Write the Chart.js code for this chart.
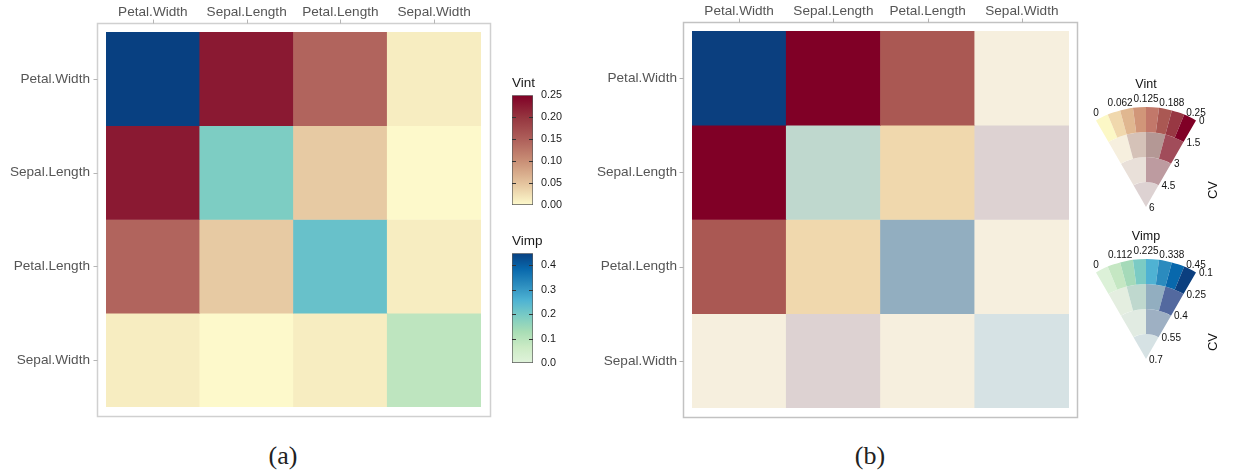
<!DOCTYPE html>
<html>
<head>
<meta charset="utf-8">
<title>Iris variable importance and interaction</title>
<script src="https://cdn.jsdelivr.net/npm/chart.js@4.4.1/dist/chart.umd.min.js"></script>
<style>
  html, body { margin: 0; padding: 0; background: #fff; }
  #stage { position: relative; width: 1237px; height: 476px; overflow: hidden; }
  #stage canvas { position: absolute; }
  .caption {
    position: absolute; top: 443px; transform: translateX(-50%);
    font-family: 'Liberation Serif', 'DejaVu Serif', serif; font-size: 26px; line-height: 1; color: #222;
  }
</style>
</head>
<body>
<div id="stage">
  <canvas id="heatA" width="500" height="420" style="left:0;top:0"></canvas>
  <canvas id="barVint" width="68" height="145" style="left:505px;top:68px"></canvas>
  <canvas id="barVimp" width="68" height="145" style="left:505px;top:226px"></canvas>
  <canvas id="heatB" width="500" height="420" style="left:585px;top:0"></canvas>
  <canvas id="wedgeVint" width="167" height="170" style="left:1070px;top:55px"></canvas>
  <canvas id="wedgeVimp" width="167" height="170" style="left:1070px;top:207px"></canvas>
  <div class="caption" style="left:283px">(a)</div>
  <div class="caption" style="left:870px">(b)</div>
</div>
<script>
const variables = ['Petal.Width', 'Sepal.Length', 'Petal.Length', 'Sepal.Width'];

// (a) point estimates: importance on the diagonal, pairwise interaction off it
const vimp = [0.45, 0.19, 0.22, 0.09];
const vintPW = [null, 0.226, 0.145, 0.012];
const vintSL = [0.226, null, 0.044, 0.001];
const vintPL = [0.145, 0.044, null, 0.012];
const vintSW = [0.012, 0.001, 0.012, null];

// (b) resampled means and coefficients of variation
const vimpMean = [0.45, 0.19, 0.23, 0.09];
const vimpCV = [0.12, 0.31, 0.33, 0.62];
const vintMeanPW = [null, 0.226, 0.16, 0.012];
const vintMeanSL = [0.226, null, 0.044, 0.001];
const vintMeanPL = [0.16, 0.044, null, 0.012];
const vintMeanSW = [0.012, 0.001, 0.012, null];
const vintCvPW = [null, 0.6, 1.1, 2.3];
const vintCvSL = [0.6, null, 1.2, 5.0];
const vintCvPL = [1.1, 1.2, null, 2.5];
const vintCvSW = [2.3, 5.0, 2.5, null];

// legend scales
const vintMax = 0.25;
const vimpMax = 0.45;
const vintValueTicks = ['0', '0.062', '0.125', '0.188', '0.25'];
const vimpValueTicks = ['0', '0.112', '0.225', '0.338', '0.45'];
const vintCvTicks = ['0', '1.5', '3', '4.5', '6'];
const vimpCvTicks = ['0.1', '0.25', '0.4', '0.55', '0.7'];
const vintCvBreaks = [1.5, 3, 4.5];
const vimpCvBreaks = [0.25, 0.4, 0.55];

const vint = [vintPW, vintSL, vintPL, vintSW];
const vintMean = [vintMeanPW, vintMeanSL, vintMeanPL, vintMeanSW];
const vintCV = [vintCvPW, vintCvSL, vintCvPL, vintCvSW];

// palettes
const vintRamp = ['#fdfacc', '#e4c39d', '#c98f76', '#ae5f5a', '#95353f', '#800026'];
const vimpRamp = ['#e0f3db', '#ccebc5', '#a8ddb5', '#7bccc4', '#4eb3d3', '#2b8cbe', '#0868ac', '#084081'];
const vintRings = [
  ['#fcf8c6', '#f0d8ad', '#e0b790', '#d19679', '#c2786a', '#aa5853', '#983843', '#800026'],
  ['#f6efde', '#d5c2b8', '#b49895', '#a14c5a'],
  ['#e9e0d9', '#bd9ba0'],
  ['#ddd2d2']
];
const vimpRings = [
  ['#dcf1d8', '#c5e7c3', '#a5dab9', '#7bcbc4', '#4fb2d3', '#2b8bbe', '#0868ac', '#0b3f7f'],
  ['#e4eee0', '#bfd8ce', '#92aec0', '#53699f'],
  ['#e1ebe2', '#9eb0c3'],
  ['#d6e2e4']
];

const SANS = "'Liberation Sans', Arial, Helvetica, sans-serif";
Chart.defaults.font.family = SANS;

function hexToRgb(h) {
  const n = parseInt(h.slice(1), 16);
  return [(n >> 16) & 255, (n >> 8) & 255, n & 255];
}

function rampColor(stops, t) {
  const x = Math.max(0, Math.min(1, t)) * (stops.length - 1);
  const i = Math.min(stops.length - 2, Math.floor(x));
  const f = x - i;
  const a = hexToRgb(stops[i]), b = hexToRgb(stops[i + 1]);
  const c = a.map((v, k) => Math.round(v + (b[k] - v) * f));
  return `rgb(${c[0]},${c[1]},${c[2]})`;
}

// value-suppressing palette: fewer value bins as the CV grows
function vsupColor(value, cv, maxValue, breaks, rings) {
  let level = breaks.findIndex(b => cv < b);
  if (level < 0) level = rings.length - 1;
  const pal = rings[level];
  const bin = Math.min(pal.length - 1, Math.floor(value / maxValue * pal.length));
  return pal[Math.max(0, bin)];
}

const colorA = (r, c) => r === c
  ? rampColor(vimpRamp, vimp[r] / vimpMax)
  : rampColor(vintRamp, vint[r][c] / vintMax);

const colorB = (r, c) => r === c
  ? vsupColor(vimpMean[r], vimpCV[r], vimpMax, vimpCvBreaks, vimpRings)
  : vsupColor(vintMean[r][c], vintCV[r][c], vintMax, vintCvBreaks, vintRings);

// labels may hang over the plot edge, don't let them shrink it
const noEdgePadding = s => {
  s.paddingTop = 0; s.paddingBottom = 0; s.paddingLeft = 0; s.paddingRight = 0;
};

// grey frame around the tiles plus the little outside tick marks
const panelFrame = {
  id: 'panelFrame',
  afterDraw(chart, args, opts) {
    const {ctx, chartArea: a, scales: {x, y}} = chart;
    const g = opts.gap;
    const L = Math.round(a.left - g.left) + 0.5, T = Math.round(a.top - g.top) + 0.5;
    const R = Math.round(a.right + g.right) + 0.5, B = Math.round(a.bottom + g.bottom) + 0.5;
    ctx.save();
    ctx.strokeStyle = opts.color;
    ctx.lineWidth = opts.lineWidth;
    ctx.strokeRect(L, T, R - L, B - T);
    ctx.beginPath();
    x.ticks.forEach((t, i) => {
      const px = Math.round(x.getPixelForTick(i)) + 0.5;
      ctx.moveTo(px, T); ctx.lineTo(px, T - opts.tick);
    });
    y.ticks.forEach((t, i) => {
      const py = Math.round(y.getPixelForTick(i)) + 0.5;
      ctx.moveTo(L, py); ctx.lineTo(L - opts.tick, py);
    });
    ctx.strokeStyle = opts.tickColor;
    ctx.lineWidth = 1;
    ctx.stroke();
    ctx.restore();
  }
};

function heatmap(id, colorAt, area, frame) {
  const datasets = variables.map((rowName, r) => ({
    label: rowName,
    data: variables.map(() => 1),
    backgroundColor: variables.map((_, c) => colorAt(r, c)),
    borderWidth: 0,
    barPercentage: 1,
    categoryPercentage: 1
  }));
  return new Chart(document.getElementById(id), {
    type: 'bar',
    data: { labels: variables, datasets },
    options: {
      responsive: false,
      animation: false,
      events: [],
      layout: { padding: { left: 0, top: 0, right: area.right, bottom: area.bottom } },
      plugins: {
        legend: { display: false },
        tooltip: { enabled: false },
        panelFrame: frame
      },
      scales: {
        x: {
          position: 'top',
          stacked: true,
          grid: { display: false, drawTicks: false },
          border: { display: false },
          ticks: { color: '#555', padding: 12, font: { size: 13.6 } },
          afterFit: s => { noEdgePadding(s); s.height = area.top; }
        },
        y: {
          stacked: true,
          reverse: true,
          min: 0,
          max: variables.length,
          grid: { display: false, drawTicks: false },
          border: { display: false },
          afterBuildTicks: s => { s.ticks = variables.map((_, i) => ({ value: i + 0.5 })); },
          ticks: { color: '#555', padding: area.labelGap, font: { size: 13.6 }, callback: v => variables[Math.floor(v)] },
          afterFit: s => { noEdgePadding(s); s.width = area.left; }
        }
      }
    },
    plugins: [panelFrame]
  });
}

heatmap('heatA', colorA,
  { left: 106, top: 32, right: 19, bottom: 13, labelGap: 16 },
  { gap: { left: 9, top: 9, right: 9, bottom: 9 }, color: '#d0d0d0', lineWidth: 1.5, tick: 4, tickColor: '#b5b5b5' });

heatmap('heatB', colorB,
  { left: 107, top: 31, right: 16, bottom: 12, labelGap: 15 },
  { gap: { left: 9, top: 9, right: 8, bottom: 9 }, color: '#c2c2c2', lineWidth: 1.5, tick: 4, tickColor: '#b0b0b0' });

// short dark marks on both edges of a colour bar at every break
const barTicks = {
  id: 'barTicks',
  afterDatasetsDraw(chart) {
    const {ctx, chartArea: a, scales: {y}} = chart;
    ctx.save();
    ctx.strokeStyle = '#333';
    ctx.lineWidth = 1;
    ctx.beginPath();
    y.ticks.forEach(t => {
      if (t.value <= y.min || t.value >= y.max) return;
      const py = Math.round(y.getPixelForValue(t.value)) + 0.5;
      ctx.moveTo(a.left, py); ctx.lineTo(a.left + 4, py);
      ctx.moveTo(a.right - 4, py); ctx.lineTo(a.right, py);
    });
    ctx.stroke();
    ctx.restore();
  }
};

function colorbar(id, title, maxValue, step, digits, stops) {
  return new Chart(document.getElementById(id), {
    type: 'bar',
    data: {
      labels: [title],
      datasets: [{
        data: [maxValue],
        backgroundColor: ctx => {
          const area = ctx.chart.chartArea;
          if (!area) return stops[0];
          const g = ctx.chart.ctx.createLinearGradient(0, area.bottom, 0, area.top);
          stops.forEach((c, i) => g.addColorStop(i / (stops.length - 1), c));
          return g;
        },
        borderColor: '#5a5a5a',
        borderWidth: 1,
        borderSkipped: false,
        barPercentage: 1,
        categoryPercentage: 1
      }]
    },
    options: {
      responsive: false,
      animation: false,
      events: [],
      layout: { padding: { left: 7, top: 0, right: 0, bottom: 8 } },
      plugins: {
        legend: { display: false },
        tooltip: { enabled: false },
        title: {
          display: true, text: title, align: 'start', color: '#1a1a1a',
          font: { size: 13.5, weight: 'normal' }, padding: { top: 7, bottom: 4 }
        }
      },
      scales: {
        x: { display: false },
        y: {
          position: 'right',
          min: 0,
          max: maxValue,
          grid: { display: false, drawTicks: false },
          border: { display: false },
          ticks: {
            stepSize: step, includeBounds: false, padding: 8, color: '#1a1a1a',
            font: { size: 10.8 }, callback: v => v.toFixed(digits)
          },
          afterFit: s => { noEdgePadding(s); s.width = 40; }
        }
      }
    },
    plugins: [barTicks]
  });
}

colorbar('barVint', 'Vint', vintMax, 0.05, 2, vintRamp);
colorbar('barVimp', 'Vimp', vimpMax, 0.1, 1, vimpRamp);

// title, value ticks along the arc and CV ticks down the right edge
const wedgeAxes = {
  id: 'wedgeAxes',
  afterDraw(chart, args, opts) {
    const {ctx} = chart;
    const outer = chart.getDatasetMeta(0).data;
    const mid = chart.getDatasetMeta(1).data;
    const cx = outer[0].x, cy = outer[0].y, R = outer[0].outerRadius;
    const angles = mid.map(a => a.startAngle).concat(mid[mid.length - 1].endAngle);
    const right = outer[outer.length - 1].endAngle;
    const radii = chart.data.datasets.map((_, i) => chart.getDatasetMeta(i).data[0].outerRadius).concat(0);

    ctx.save();
    ctx.fillStyle = '#111';
    ctx.textBaseline = 'middle';
    ctx.font = `10px ${SANS}`;
    ctx.textAlign = 'center';
    angles.forEach((ang, k) => {
      ctx.fillText(opts.valueTicks[k], cx + R * Math.cos(ang), cy + R * Math.sin(ang) - 7.5);
    });
    ctx.textAlign = 'left';
    radii.forEach((r, k) => {
      ctx.fillText(opts.cvTicks[k], cx + r * Math.cos(right) + 3, cy + r * Math.sin(right) + 1);
    });
    ctx.textAlign = 'center';
    ctx.font = `12.5px ${SANS}`;
    ctx.fillText(opts.title, cx, cy - R - 22);
    ctx.translate(cx + 67, cy - 17);
    ctx.rotate(-Math.PI / 2);
    ctx.font = `13px ${SANS}`;
    ctx.fillText('CV', 0, 0);
    ctx.restore();
  }
};

function wedge(id, title, rings, valueTicks, cvTicks) {
  return new Chart(document.getElementById(id), {
    type: 'doughnut',
    data: {
      datasets: rings.map(pal => ({ data: pal.map(() => 1), backgroundColor: pal, borderWidth: 0 }))
    },
    options: {
      responsive: false,
      animation: false,
      events: [],
      rotation: -30,
      circumference: 60,
      cutout: 0,
      radius: 100,
      layout: { padding: { left: 26, top: 52, right: 41, bottom: 18 } },
      plugins: {
        legend: { display: false },
        tooltip: { enabled: false },
        wedgeAxes: { title, valueTicks, cvTicks }
      }
    },
    plugins: [wedgeAxes]
  });
}

wedge('wedgeVint', 'Vint', vintRings, vintValueTicks, vintCvTicks);
wedge('wedgeVimp', 'Vimp', vimpRings, vimpValueTicks, vimpCvTicks);
</script>
</body>
</html>
